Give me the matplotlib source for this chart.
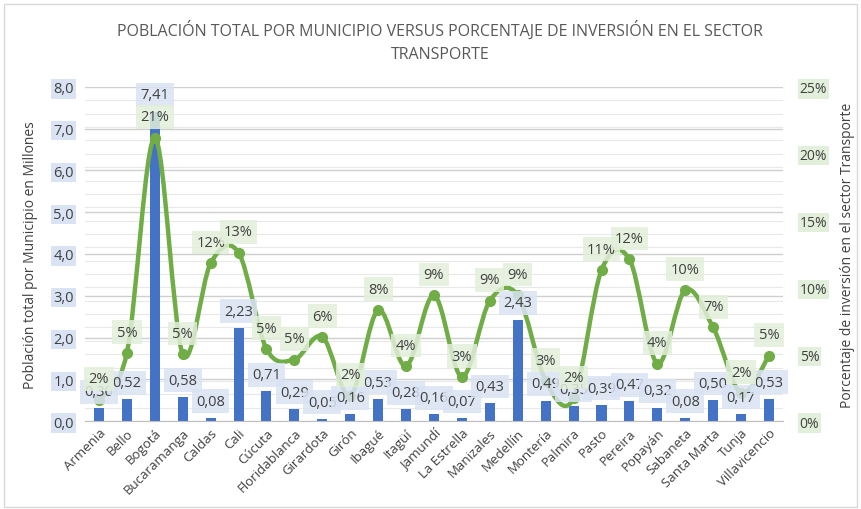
import matplotlib.pyplot as plt
import numpy as np
from matplotlib.path import Path
from matplotlib.patches import PathPatch, Rectangle
from matplotlib.ticker import MultipleLocator, FixedLocator

plt.rcParams['font.family'] = ['Open Sans', 'DejaVu Sans']

municipios = ["Armenia", "Bello", "Bogotá", "Bucaramanga", "Caldas", "Cali", "Cúcuta",
              "Floridablanca", "Girardota", "Girón", "Ibagué", "Itagüí", "Jamundí",
              "La Estrella", "Manizales", "Medellín", "Montería", "Palmira", "Pasto",
              "Pereira", "Popayán", "Sabaneta", "Santa Marta", "Tunja", "Villavicencio"]
poblacion = [0.30, 0.52, 7.41, 0.58, 0.08, 2.23, 0.71, 0.29, 0.05, 0.16, 0.53, 0.28, 0.16,
             0.07, 0.43, 2.43, 0.49, 0.35, 0.39, 0.47, 0.32, 0.08, 0.50, 0.17, 0.53]
inversion = [0.016, 0.051, 0.212, 0.050, 0.118, 0.126, 0.054, 0.046, 0.063, 0.019, 0.083,
             0.041, 0.094, 0.033, 0.090, 0.094, 0.030, 0.017, 0.113, 0.121, 0.043, 0.098,
             0.070, 0.021, 0.049]

blue = "#4472C4"
green = "#70AD47"
txt = "#404040"

fig = plt.figure(figsize=(8.61, 5.10), dpi=100)
ax = fig.add_axes([0.0987, 0.1725, 0.8107, 0.655])
ax2 = ax.twinx()

x = np.arange(len(municipios))
ax.bar(x, poblacion, width=0.36, color=blue, zorder=2)
ax.set_xlim(-0.5, len(municipios) - 0.5)
ax.set_ylim(0, 8)
ax2.set_ylim(0, 0.25)

# grid: major every 1.0 (left), minor every 1% of the right axis
ax.yaxis.set_major_locator(MultipleLocator(1.0))
ax.yaxis.set_minor_locator(MultipleLocator(8 / 25))
ax.grid(which='major', axis='y', color='#CFCFCF', lw=1.0, zorder=0)
ax.grid(which='minor', axis='y', color='#E8E8E8', lw=0.8, zorder=0)
ax.set_axisbelow(True)
ax.set_yticks(np.arange(0, 8.1, 1.0))
ax.set_yticklabels([f"{v:.1f}".replace('.', ',') for v in np.arange(0, 8.1, 1.0)])
ax2.yaxis.set_major_locator(FixedLocator(np.arange(0, 0.26, 0.05)))
ax2.set_yticklabels([f"{int(round(v * 100))}%" for v in np.arange(0, 0.26, 0.05)])

for a in (ax, ax2):
    for s in a.spines.values():
        s.set_visible(False)
ax.spines['bottom'].set_visible(True)
ax.spines['bottom'].set_color('#BFBFBF')
ax.tick_params(axis='both', which='both', length=0, colors=txt)
ax2.tick_params(axis='both', which='both', length=0, colors=txt)
ax.tick_params(axis='y', labelsize=10.5, pad=8)
ax2.tick_params(axis='y', labelsize=10, pad=12)

ax.set_xticks(x)
ax.set_xticklabels(municipios, rotation=45, ha='right', rotation_mode='anchor',
                   fontsize=9.5, color=txt)

for lbl in ax.get_yticklabels():
    lbl.set_bbox(dict(boxstyle='square,pad=0.15', fc='#DAE3F3', ec='none'))
for lbl in ax2.get_yticklabels():
    lbl.set_bbox(dict(boxstyle='square,pad=0.15', fc='#E2EFDA', ec='none'))

# smoothed line (Catmull-Rom as bezier, like the spreadsheet "smooth line")
px = x.astype(float)
py = np.array(inversion)
verts = [(px[0], py[0])]
codes = [Path.MOVETO]
n = len(px)
for i in range(n - 1):
    p0 = (px[max(i - 1, 0)], py[max(i - 1, 0)])
    p1 = (px[i], py[i])
    p2 = (px[i + 1], py[i + 1])
    p3 = (px[min(i + 2, n - 1)], py[min(i + 2, n - 1)])
    c1 = (p1[0] + (p2[0] - p0[0]) / 6, p1[1] + (p2[1] - p0[1]) / 6)
    c2 = (p2[0] - (p3[0] - p1[0]) / 6, p2[1] - (p3[1] - p1[1]) / 6)
    verts += [c1, c2, p2]
    codes += [Path.CURVE4] * 3
ax2.add_patch(PathPatch(Path(verts, codes), fc='none', ec=green, lw=3.2,
                        capstyle='round', joinstyle='round', zorder=3))
ax2.plot(px, py, 'o', color=green, ms=7, zorder=4)

# data labels
for xi, v in zip(x, poblacion):
    ax2.annotate(f"{v:.2f}".replace('.', ','), (xi, v), xycoords=ax.transData,
                 xytext=(0, 12), textcoords='offset points', ha='center', va='center',
                 fontsize=10.5, color=txt, zorder=6,
                 bbox=dict(boxstyle='square,pad=0.3', fc='#DAE3F3', ec='none', alpha=0.85))
for xi, v in zip(x, inversion):
    ax2.annotate(f"{int(round(v * 100))}%", (xi, v), xytext=(0, 15),
                 textcoords='offset points', ha='center', va='center',
                 fontsize=10.5, color=txt, zorder=6,
                 bbox=dict(boxstyle='square,pad=0.3', fc='#E2EFDA', ec='none', alpha=0.85))

ax.set_ylabel("Población total por Municipio en Millones", fontsize=10, color=txt)
ax.yaxis.set_label_coords(-0.068, 0.5)
ax2.set_ylabel("Porcentaje de inversión en el sector Transporte", fontsize=10,
               color=txt, rotation=90)
ax2.yaxis.set_label_coords(1.082, 0.5)

fig.text(0.511, 0.918, "POBLACIÓN TOTAL POR MUNICIPIO VERSUS PORCENTAJE DE INVERSIÓN EN EL SECTOR\nTRANSPORTE",
         ha='center', va='center', fontsize=11.5, color='#595959', linespacing=1.6)

fig.add_artist(Rectangle((4 / 861, 2 / 510), 853 / 861, 503 / 510, transform=fig.transFigure,
                         fill=False, ec='#D9D9D9', lw=1))

fig.savefig("out.png", dpi=100)
